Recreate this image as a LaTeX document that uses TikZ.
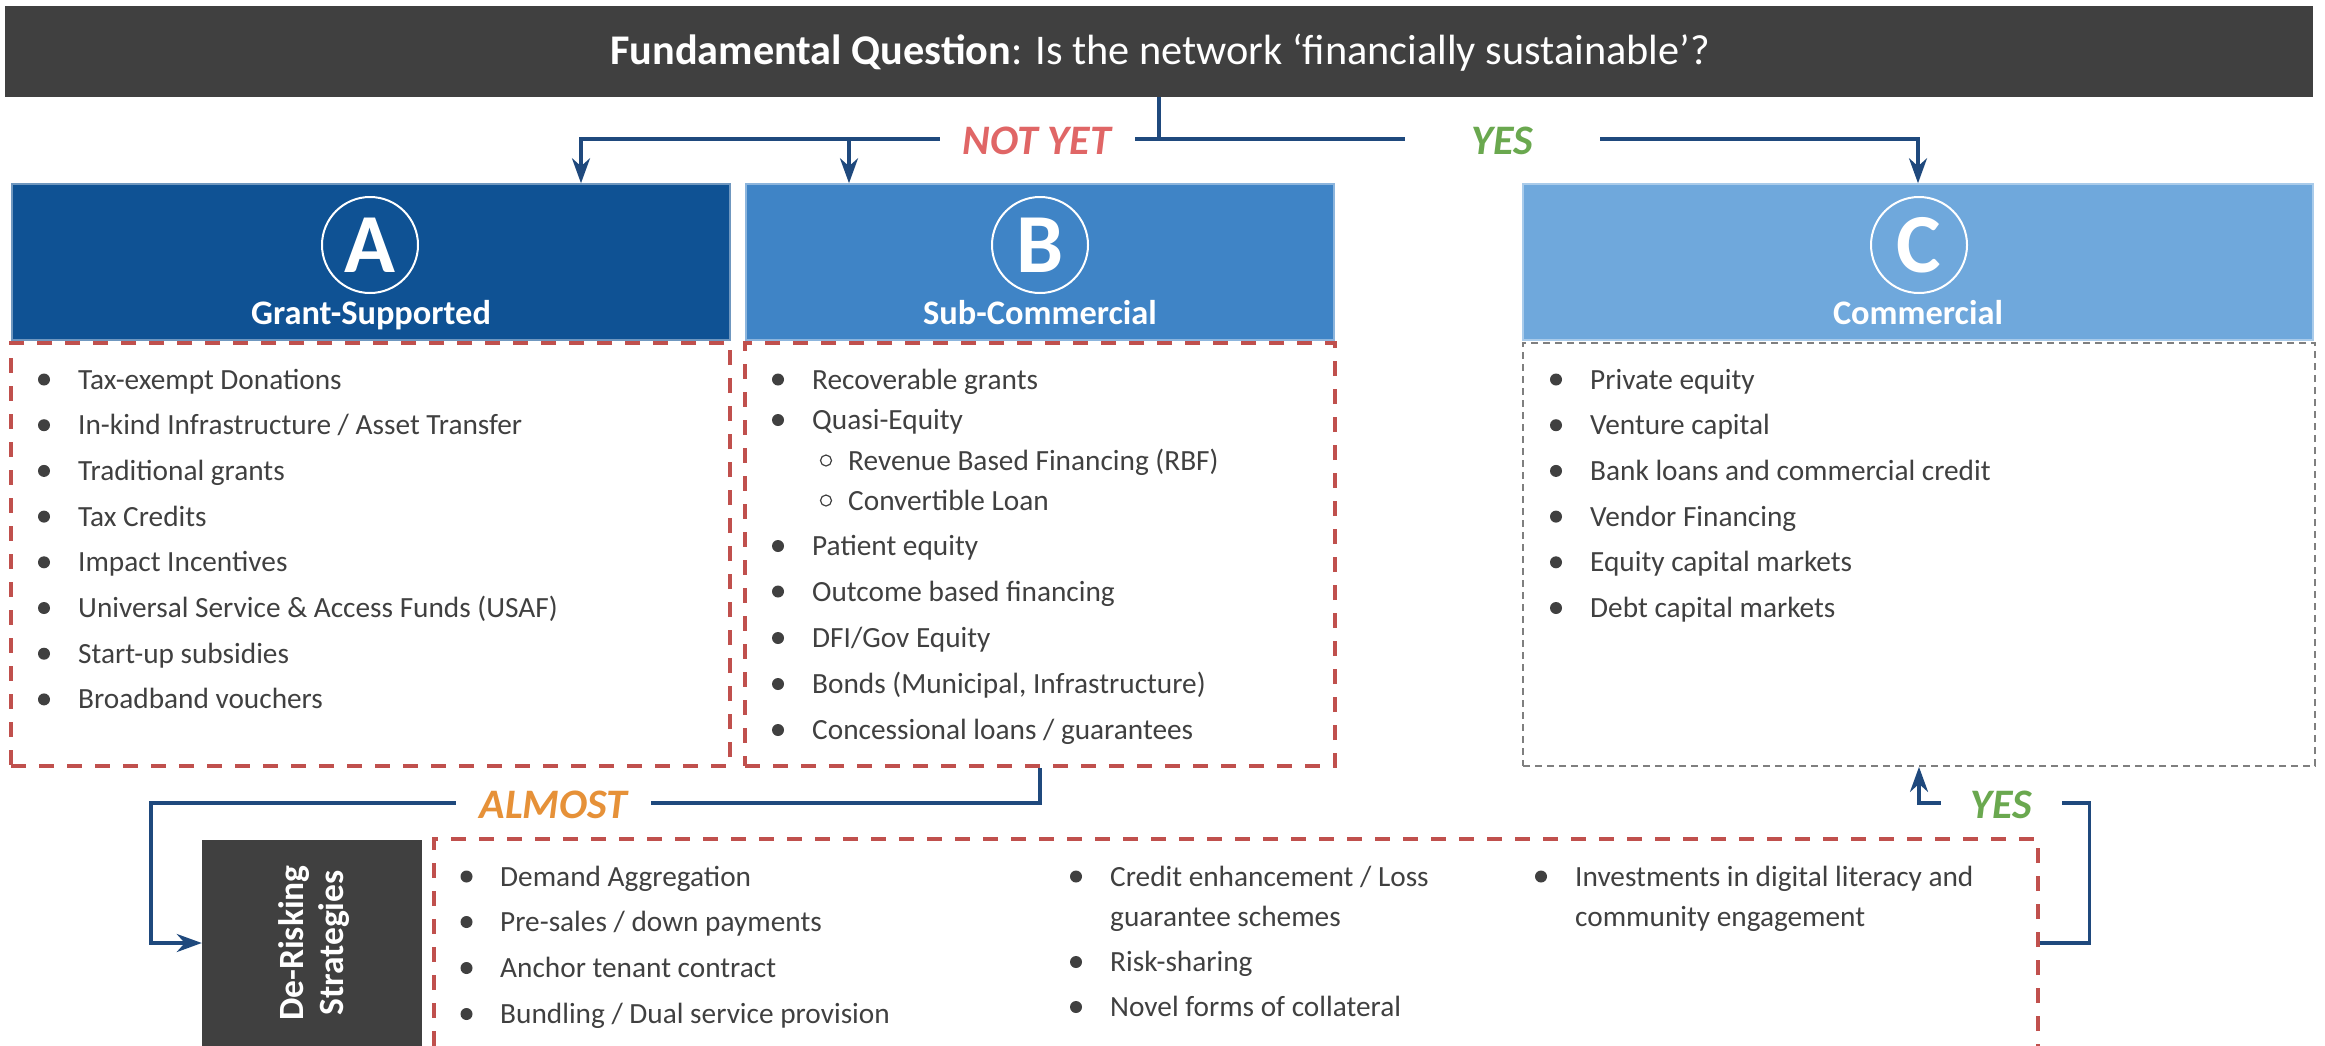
\documentclass[tikz,border=0pt]{standalone}
\usepackage{fontspec}
\setmainfont{Carlito}
\usetikzlibrary{arrows.meta, positioning, calc}

\definecolor{barGray}{RGB}{64,64,64}
\definecolor{txtGray}{RGB}{64,64,64}
\definecolor{hdrA}{RGB}{15,82,148}
\definecolor{hdrB}{RGB}{63,132,198}
\definecolor{hdrC}{RGB}{111,168,220}
\definecolor{dashRed}{RGB}{192,80,77}
\definecolor{dashGray}{RGB}{127,127,127}
\definecolor{lineBlue}{RGB}{31,73,125}
\definecolor{notYet}{RGB}{224,102,102}
\definecolor{yesGreen}{RGB}{106,168,79}
\definecolor{almostOrange}{RGB}{230,145,56}

\newcommand{\setfs}[2]{\fontsize{#1pt}{#2pt}\selectfont}

\tikzset{
  >={Stealth[length=25pt, width=18pt, inset=8pt]},
  bar/.style      = {fill=barGray, inner sep=0pt,
                     minimum width=2308pt, minimum height=91pt},
  hdr/.style      = {inner sep=0pt, minimum height=156pt, line width=1.5pt},
  badge/.style    = {circle, draw=white, line width=2pt, minimum size=96pt,
                     inner sep=0pt, text=white, font=\setfs{84}{84}\bfseries},
  hdrtitle/.style = {anchor=base, inner sep=0pt, text=white,
                     font=\setfs{34.4}{40}\bfseries},
  redbox/.style   = {draw=dashRed, line width=4pt, dash pattern=on 15pt off 13pt,
                     inner sep=0pt},
  graybox/.style  = {draw=dashGray, line width=1.8pt, dash pattern=on 7pt off 5pt,
                     inner sep=0pt},
  item/.style     = {anchor=base west, inner sep=0pt, text=txtGray,
                     font=\setfs{29.3}{35}},
  conn/.style     = {draw=lineBlue, line width=3.5pt},
  answer/.style   = {fill=white, inner sep=0pt, minimum height=34pt,
                     font=\setfs{42}{42}\bfseries\itshape},
}

\begin{document}
\begin{tikzpicture}[x=1pt, y=-1pt]
  \clip (0,0) rectangle (2325,1045);

  % ---------- question bar -------------------------------------------
  \node[bar] (q) at (1159,51.5) {};
  \node[anchor=base, inner sep=0pt, text=white, font=\setfs{42.3}{48}] (qtxt)
    at (1160,64) {\textbf{Fundamental Question}: Is the network ‘financially sustainable’?};

  % ---------- category headers ---------------------------------------
  \node[hdr, fill=hdrA, draw=hdrA!60!white, minimum width=718pt] (hA) at (371,262) {};
  \node[hdr, fill=hdrB, draw=hdrB!60!white, minimum width=588pt] (hB) at (1040,262) {};
  \node[hdr, fill=hdrC, draw=hdrC!60!white, minimum width=790pt] (hC) at (1918,262) {};
  \node[badge] (cA) at (370,245) {A};
  \node[badge] (cB) at (1040,245) {B};
  \node[badge] (cC) at (1919,245) {C};
  \node[hdrtitle] (tA) at (371,324) {Grant-Supported};
  \node[hdrtitle] (tB) at (1040,324) {Sub-Commercial};
  \node[hdrtitle] (tC) at (1918,324) {Commercial};

  % ---------- instrument lists ---------------------------------------
  \node[redbox, minimum width=719pt, minimum height=423pt] (lA) at (370.5,554.5) {};
  \node[redbox, minimum width=590pt, minimum height=423pt] (lB) at (1040,554.5) {};
  \node[graybox, minimum width=792pt, minimum height=423pt] (lC) at (1919,554.5) {};

  \foreach \txt [count=\i] in {Tax-exempt Donations,
      In-kind Infrastructure / Asset Transfer, Traditional grants, Tax Credits,
      Impact Incentives, Universal Service \& Access Funds (USAF),
      Start-up subsidies, Broadband vouchers} {
    \fill[txtGray] (44,{379.5+45.7*(\i-1)}) circle (6pt);
    \node[item] (a\i) at (78,{389+45.7*(\i-1)}) {\txt};
  }

  \foreach \yy/\txt [count=\i] in {389/Recoverable grants, 429.5/Quasi-Equity,
      555.5/Patient equity, 601/Outcome based financing, 647.5/{DFI/Gov Equity},
      693.5/{Bonds (Municipal, Infrastructure)},
      739.5/{Concessional loans / guarantees}} {
    \fill[txtGray] (778,\yy-9.5) circle (6pt);
    \node[item] (b\i) at (812,\yy) {\txt};
  }
  \foreach \yy/\txt [count=\i] in {470/{Revenue Based Financing (RBF)},
      510/Convertible Loan} {
    \draw[txtGray, line width=1.2pt] (826,\yy-9.5) circle (5.5pt);
    \node[item] (bs\i) at (848,\yy) {\txt};
  }

  \foreach \txt [count=\i] in {Private equity, Venture capital,
      Bank loans and commercial credit, Vendor Financing,
      Equity capital markets, Debt capital markets} {
    \fill[txtGray] (1556,{379.5+45.7*(\i-1)}) circle (6pt);
    \node[item] (c\i) at (1590,{389+45.7*(\i-1)}) {\txt};
  }

  % ---------- de-risking strip ---------------------------------------
  \node[fill=barGray, inner sep=0pt, minimum width=220pt, minimum height=206pt]
    (dr) at (312,943) {};
  \node[rotate=90, align=center, inner sep=0pt, text=white,
        font=\setfs{35.5}{40}\bfseries] (drt) at (314,943) {De-Risking\\Strategies};
  \node[redbox, minimum width=1604pt, minimum height=240pt] (ld) at (1235.6,959) {};

  \foreach \yy/\txt [count=\i] in {886/Demand Aggregation,
      931.5/{Pre-sales / down payments}, 977.5/Anchor tenant contract,
      1023.5/{Bundling / Dual service provision}} {
    \fill[txtGray] (466.5,\yy-9.5) circle (6pt);
    \node[item] (d\i) at (500,\yy) {\txt};
  }
  \foreach \yy/\txt [count=\i] in {886/{Credit enhancement / Loss},
      971.5/Risk-sharing, 1016.5/Novel forms of collateral} {
    \fill[txtGray] (1076,\yy-9.5) circle (6pt);
    \node[item] (e\i) at (1110,\yy) {\txt};
  }
  \node[item] (e1b) at (1110,926.5) {guarantee schemes};
  \fill[txtGray] (1541,876.5) circle (6pt);
  \node[item] (f1) at (1575,886) {Investments in digital literacy and};
  \node[item] (f1b) at (1575,926.5) {community engagement};

  % ---------- decision connectors ------------------------------------
  \coordinate (split) at ($(q.south)+(0,42)$);
  \coordinate (inA) at ($(hA.north)+(210,0)$);
  \coordinate (inB) at ($(hB.north)+(-191,0)$);
  \draw[conn] (q.south) -- (split);
  \draw[conn, ->] (split) -| (inA);
  \draw[conn, ->] (split -| inB) -- (inB);
  \draw[conn, ->] (split) -| (hC.north);

  \draw[conn, ->] (lB.south) -- ++(0,35) -| ($(dr.west)+(-51,0)$) -- (dr.west);
  \coordinate (yesstart) at (ld.north east |- dr.west);
  \draw[conn, ->] (yesstart) -- ++(50,0) |- ($(lC.south)+(0,36)$) -- (lC.south);

  % answers sit on the lines and cut them
  \node[answer, text=notYet, minimum width=195pt] (ny) at (1037,141) {NOT YET};
  \node[answer, text=yesGreen, minimum width=195pt] (yes1) at (1502,141) {YES};
  \node[answer, text=almostOrange, minimum width=195pt] (alm) at (553.5,805) {ALMOST};
  \node[answer, text=yesGreen, minimum width=121pt] (yes2) at (2001,805) {YES};
\end{tikzpicture}
\end{document}
